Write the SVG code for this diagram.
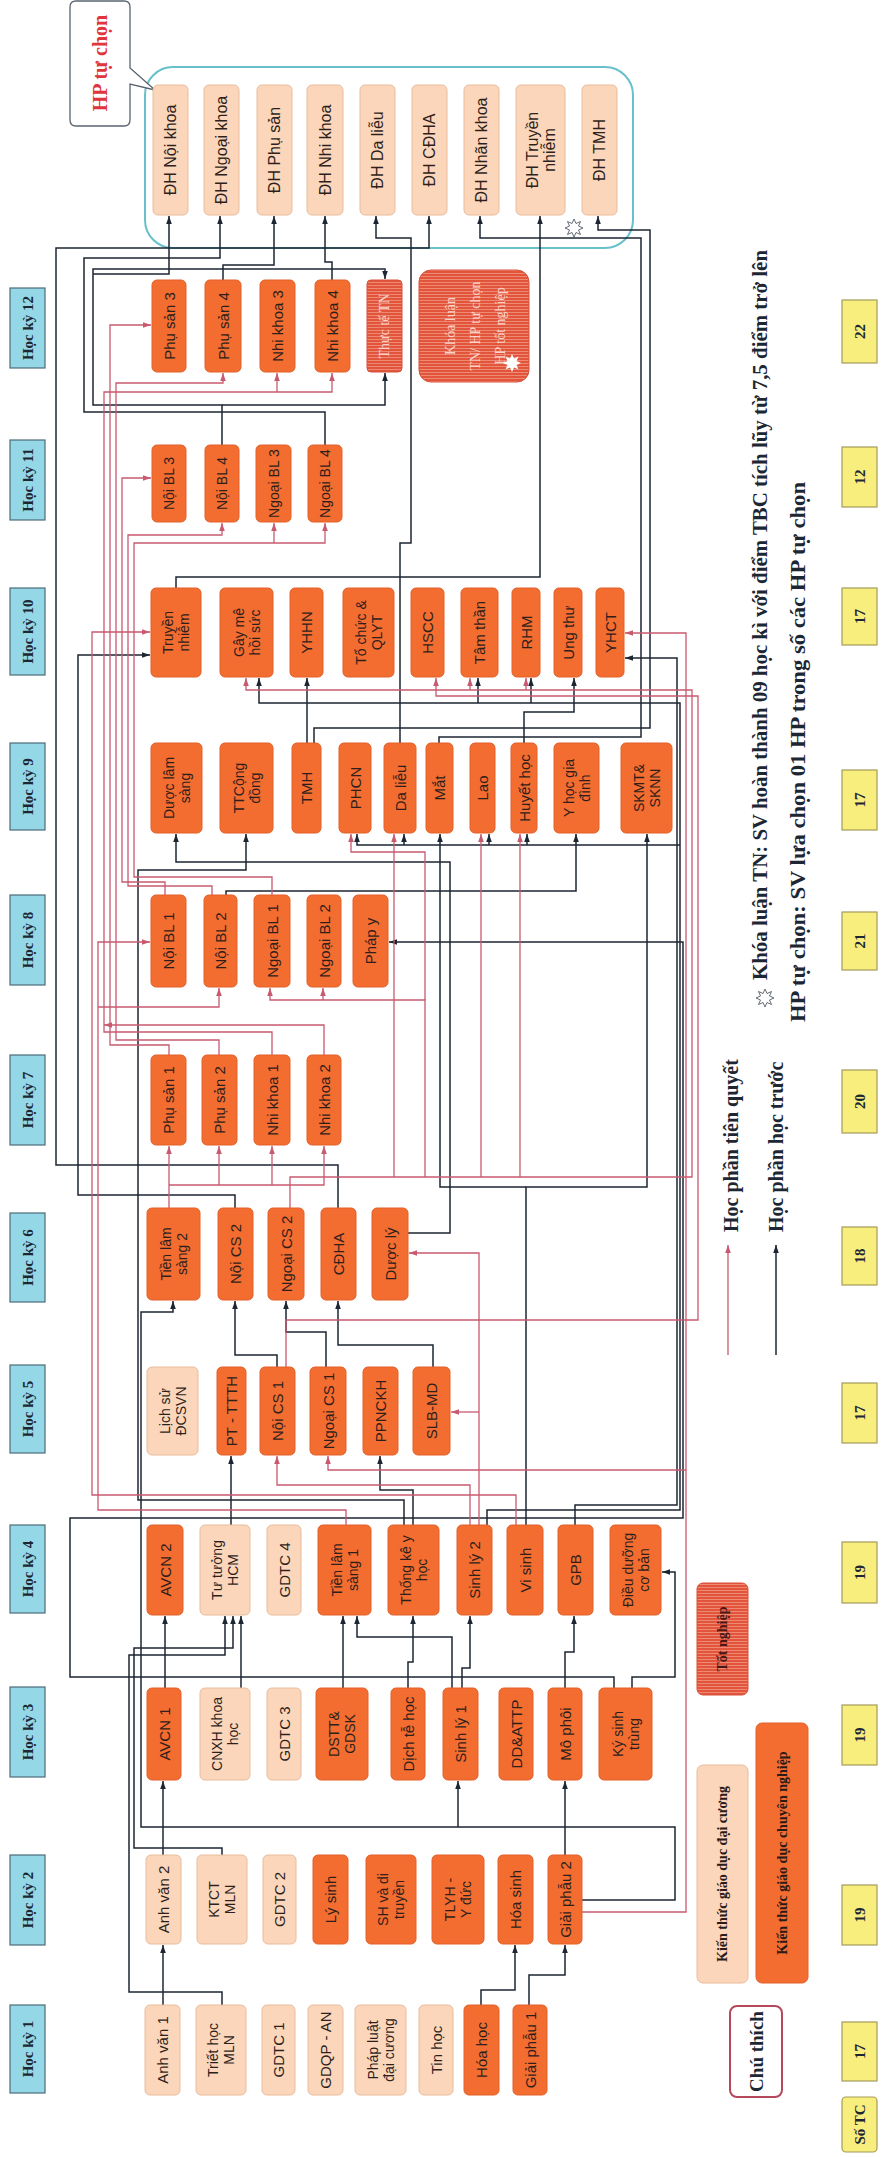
<svg xmlns="http://www.w3.org/2000/svg" width="882" height="2157" viewBox="0 0 882 2157">
<defs>
<style>
.dk{fill:#f36c30;stroke:#e3602a;stroke-width:1}
.lt{fill:#fbd6ba;stroke:#e9bc9c;stroke-width:1}
.ht{fill:url(#hatch);stroke:#d9503a;stroke-width:1}
.hd{fill:#94d8e8;stroke:#4d6b78;stroke-width:1.2}
.yl{fill:#f7ee7e;stroke:#a39b5a;stroke-width:1.2}
.t,.t tspan{font-family:"Liberation Sans",Arial,sans-serif;font-size:15px;fill:#2e1f1c;text-anchor:middle;dominant-baseline:central}
.t2,.t2 tspan{font-family:"Liberation Sans",Arial,sans-serif;font-size:14px;fill:#2e1f1c;text-anchor:middle;dominant-baseline:central}
.t3{font-family:"Liberation Sans",Arial,sans-serif;font-size:14px;fill:#2e1f1c;text-anchor:middle;dominant-baseline:central}
.dh,.dh tspan{font-family:"Liberation Sans",Arial,sans-serif;font-size:16px;fill:#2e1f1c;text-anchor:middle;dominant-baseline:central}
.h{font-family:"Liberation Serif","Times New Roman",serif;font-weight:bold;font-size:15px;fill:#1d2733;text-anchor:middle;dominant-baseline:central}
.s,.s tspan{font-family:"Liberation Serif","Times New Roman",serif;font-size:14px;fill:#fcd3cb;text-anchor:middle;dominant-baseline:central}
.w{fill:none;stroke:#1c2633;stroke-width:1.5;marker-end:url(#ab)}
.p{fill:none;stroke:#c85a70;stroke-width:1.3;marker-end:url(#ap)}
.lg{font-family:"Liberation Serif","Times New Roman",serif;font-weight:bold;font-size:20px;fill:#1d2733;dominant-baseline:central}
.lk{font-family:"Liberation Serif","Times New Roman",serif;font-weight:bold;font-size:14px;fill:#2a1a18;text-anchor:middle;dominant-baseline:central}
</style>
<marker id="ab" viewBox="0 0 10 10" refX="10" refY="5" markerWidth="8" markerHeight="8" markerUnits="userSpaceOnUse" orient="auto"><path d="M0,1.5 L10,5 L0,8.5 z" fill="#1c2633"/></marker>
<marker id="ap" viewBox="0 0 10 10" refX="10" refY="5" markerWidth="8" markerHeight="8" markerUnits="userSpaceOnUse" orient="auto"><path d="M0,1.5 L10,5 L0,8.5 z" fill="#c85a70"/></marker>
<pattern id="hatch" patternUnits="userSpaceOnUse" width="6" height="3"><rect width="6" height="3" fill="#e2553c"/><rect width="6" height="1" fill="#ee8a72"/></pattern>
</defs>
<rect width="882" height="2157" fill="#ffffff"/>

<g id="hp-tu-chon-frame">
<rect x="145" y="67" width="488" height="181" rx="28" fill="none" stroke="#68c0cb" stroke-width="2"/>
</g>
<g id="hp-tu-chon-callout">
<path d="M76,1 H124 Q130,1 130,7 V68 L155,90 L130,84 V120 Q130,126 124,126 H76 Q70,126 70,120 V7 Q70,1 76,1 Z" fill="#ffffff" stroke="#5a6470" stroke-width="1.3"/>
<text transform="translate(100,63) rotate(-90)" style="font-family:'Liberation Serif','Times New Roman',serif;font-weight:bold;font-size:20px;fill:#e0353c;text-anchor:middle;dominant-baseline:central">HP tự chọn</text>
</g>

<g id="connectors">
<path class="w" d="M163,2005 V1945"/>
<path class="w" d="M481,2005 V1990 H515 V1945"/>
<path class="w" d="M529,2005 V1975 H565 V1945"/>
<path class="w" d="M222,2005 V1992 H129 V1655 H225 V1616"/>
<path class="w" d="M222,1855 V1848 H134 V1648 H233 V1616"/>
<path class="w" d="M241,1688 V1616"/>
<path class="w" d="M163,1855 V1781"/>
<path class="w" d="M565,1855 V1781"/>
<path class="w" d="M582,1900 H675 V1827 H141 V1312 H173 V1301"/>
<path class="w" d="M458,1827 V1781"/>
<path class="w" d="M165,1688 V1616"/>
<path class="w" d="M343,1688 V1616"/>
<path class="w" d="M408,1688 V1662 H413 V1616"/>
<path class="w" d="M462,1688 V1668 H470 V1616"/>
<path class="w" d="M452,1688 V1637 H357 V1616"/>
<path class="w" d="M565,1688 V1652 H574 V1616"/>
<path class="w" d="M632,1688 V1677 H675 V1572 H662"/>
<path class="w" d="M614,1688 V1677 H70 V1518 H683 V942 H389"/>
<path class="w" d="M231,1525 V1456"/>
<path class="w" d="M413,1525 V1490 H380 V1456"/>
<path class="w" d="M277,1367 V1355 H235 V1301"/>
<path class="w" d="M326,1367 V1332 H286 V1301"/>
<path class="w" d="M433,1367 V1345 H338 V1301"/>
<path class="w" d="M408,1233 H450 V862 H176 V834"/>
<path class="w" d="M338,1208 V1165 H56 V248 H429 V216"/>
<path class="w" d="M526,1525 V1187 H647 V834"/>
<path class="w" d="M526,1187 H440 V834"/>
<path class="w" d="M487,1525 V1510 H680 V703 H259 V678"/>
<path class="w" d="M478,703 V678"/>
<path class="w" d="M531,703 V678"/>
<path class="w" d="M680,845 H357 V834"/>
<path class="w" d="M404,845 V834"/>
<path class="w" d="M489,845 V834"/>
<path class="w" d="M527,845 V834"/>
<path class="w" d="M307,743 V678"/>
<path class="w" d="M439,743 V737 H641 V238 H480 V216"/>
<path class="w" d="M400,743 V543 H411 V238 H376 V216"/>
<path class="w" d="M176,588 V577 H540 V216"/>
<path class="w" d="M314,743 V728 H650 V230 H598 V216"/>
<path class="w" d="M222,445 V405 H93 V269 H385 V279"/>
<path class="w" d="M93,274 H169 V216"/>
<path class="w" d="M222,405 H385 V373"/>
<path class="w" d="M325,445 V412 H84 V258 H220 V216"/>
<path class="w" d="M223,280 V265 H274 V216"/>
<path class="w" d="M332,280 V262 H325 V216"/>
<path class="w" d="M235,1208 V1195 H78 V655 H150"/>
<path class="w" d="M226,895 V891 H576 V834"/>
<path class="w" d="M404,1525 V1500 H138 V870 H246 V834"/>
<path class="w" d="M575,1525 V1505 H677 V658 H625"/>
<path class="w" d="M524,743 V712 H574 V678"/>
<path class="p" d="M346,1525 V1510 H98 V942 H150"/>
<path class="p" d="M98,1007 H219 V988"/>
<path class="p" d="M169,1055 V1045 H110 V325 H151"/>
<path class="p" d="M219,1055 V1040 H116 V383 H223 V373"/>
<path class="p" d="M272,1055 V1032 H104 V392 H332 V373"/>
<path class="p" d="M277,392 V373"/>
<path class="p" d="M324,1055 V1025 H104"/>
<path class="p" d="M165,895 V882 H122 V478 H151"/>
<path class="p" d="M212,895 V886 H128 V535 H222 V523"/>
<path class="p" d="M272,895 V877 H134 V543 H325 V523"/>
<path class="p" d="M274,543 V523"/>
<path class="p" d="M169,1208 V1146"/>
<path class="p" d="M169,1185 H324 V1146"/>
<path class="p" d="M219,1185 V1146"/>
<path class="p" d="M272,1185 V1146"/>
<path class="p" d="M290,1208 V1177 H692 V690 H246 V678"/>
<path class="p" d="M470,690 V678"/>
<path class="p" d="M526,690 V678"/>
<path class="p" d="M394,1177 V834"/>
<path class="p" d="M481,1177 V834"/>
<path class="p" d="M520,1177 V834"/>
<path class="p" d="M425,1177 V1000 H270 V988"/>
<path class="p" d="M323,1000 V988"/>
<path class="p" d="M425,1000 V852 H351 V834"/>
<path class="p" d="M286,1367 V1320 H698 V696 H436 V678"/>
<path class="p" d="M582,1912 H686 V633 H625"/>
<path class="p" d="M686,1470 H328 V1456"/>
<path class="p" d="M516,1525 V1495 H92 V632 H150"/>
<path class="p" d="M470,1525 V1485 H277 V1456"/>
<path class="p" d="M479,1525 V1253 H409"/>
<path class="p" d="M479,1412 H451"/>
</g>

<g id="hk1"><rect class="hd" x="10" y="2005" width="35" height="88"/><text class="h" transform="translate(27.5,2049) rotate(-90)">Học kỳ 1</text></g>
<g id="hk2"><rect class="hd" x="10" y="1855" width="35" height="90"/><text class="h" transform="translate(27.5,1900) rotate(-90)">Học kỳ 2</text></g>
<g id="hk3"><rect class="hd" x="10" y="1687" width="35" height="90"/><text class="h" transform="translate(27.5,1732) rotate(-90)">Học kỳ 3</text></g>
<g id="hk4"><rect class="hd" x="10" y="1525" width="35" height="88"/><text class="h" transform="translate(27.5,1569) rotate(-90)">Học kỳ 4</text></g>
<g id="hk5"><rect class="hd" x="10" y="1365" width="35" height="88"/><text class="h" transform="translate(27.5,1409) rotate(-90)">Học kỳ 5</text></g>
<g id="hk6"><rect class="hd" x="10" y="1213" width="35" height="89"/><text class="h" transform="translate(27.5,1257.5) rotate(-90)">Học kỳ 6</text></g>
<g id="hk7"><rect class="hd" x="10" y="1055" width="35" height="90"/><text class="h" transform="translate(27.5,1100) rotate(-90)">Học kỳ 7</text></g>
<g id="hk8"><rect class="hd" x="10" y="895" width="35" height="90"/><text class="h" transform="translate(27.5,940) rotate(-90)">Học kỳ 8</text></g>
<g id="hk9"><rect class="hd" x="10" y="743" width="35" height="87"/><text class="h" transform="translate(27.5,786.5) rotate(-90)">Học kỳ 9</text></g>
<g id="hk10"><rect class="hd" x="10" y="588" width="35" height="87"/><text class="h" transform="translate(27.5,631.5) rotate(-90)">Học kỳ 10</text></g>
<g id="hk11"><rect class="hd" x="10" y="440" width="35" height="80"/><text class="h" transform="translate(27.5,480) rotate(-90)">Học kỳ 11</text></g>
<g id="hk12"><rect class="hd" x="10" y="288" width="35" height="80"/><text class="h" transform="translate(27.5,328) rotate(-90)">Học kỳ 12</text></g>

<g id="dh-noi"><rect class="lt" x="153" y="85" width="35" height="130" rx="5"/><text class="dh" transform="translate(170.5,150) rotate(-90)">ĐH Nội khoa</text></g>
<g id="dh-ngoai"><rect class="lt" x="204" y="85" width="35" height="130" rx="5"/><text class="dh" transform="translate(221.5,150) rotate(-90)">ĐH Ngoại khoa</text></g>
<g id="dh-phusan"><rect class="lt" x="257" y="85" width="35" height="130" rx="5"/><text class="dh" transform="translate(274.5,150) rotate(-90)">ĐH Phụ sản</text></g>
<g id="dh-nhi"><rect class="lt" x="307" y="85" width="36" height="130" rx="5"/><text class="dh" transform="translate(325,150) rotate(-90)">ĐH Nhi khoa</text></g>
<g id="dh-dalieu"><rect class="lt" x="360" y="85" width="35" height="130" rx="5"/><text class="dh" transform="translate(377.5,150) rotate(-90)">ĐH Da liễu</text></g>
<g id="dh-cdha"><rect class="lt" x="412" y="85" width="35" height="130" rx="5"/><text class="dh" transform="translate(429.5,150) rotate(-90)">ĐH CĐHA</text></g>
<g id="dh-nhan"><rect class="lt" x="464" y="85" width="35" height="130" rx="5"/><text class="dh" transform="translate(481.5,150) rotate(-90)">ĐH Nhãn khoa</text></g>
<g id="dh-truyen"><rect class="lt" x="516" y="85" width="49" height="130" rx="5"/><text class="dh" transform="translate(540.5,150) rotate(-90)"><tspan x="0" y="-8.5">ĐH Truyền</tspan><tspan x="0" y="8.5">nhiễm</tspan></text></g>
<g id="dh-tmh"><rect class="lt" x="582" y="85" width="35" height="130" rx="5"/><text class="dh" transform="translate(599.5,150) rotate(-90)">ĐH TMH</text></g>
<g id="star-hp"><polygon points="574,219 576,223.5 580.5,221.5 578.5,226 583,228 578.5,230 580.5,234.5 576,232.5 574,237 572,232.5 567.5,234.5 569.5,230 565,228 569.5,226 567.5,221.5 572,223.5" fill="#ffffff" stroke="#555c66" stroke-width="0.9"/></g>

<g id="phusan3"><rect class="dk" x="152" y="280" width="34" height="92" rx="5"/><text class="t" transform="translate(169,326) rotate(-90)">Phụ sản 3</text></g>
<g id="phusan4"><rect class="dk" x="205" y="280" width="36" height="92" rx="5"/><text class="t" transform="translate(223,326) rotate(-90)">Phụ sản 4</text></g>
<g id="nhikhoa3"><rect class="dk" x="260" y="280" width="35" height="92" rx="5"/><text class="t" transform="translate(277.5,326) rotate(-90)">Nhi khoa 3</text></g>
<g id="nhikhoa4"><rect class="dk" x="315" y="280" width="35" height="92" rx="5"/><text class="t" transform="translate(332.5,326) rotate(-90)">Nhi khoa 4</text></g>
<g id="thucte-tn"><rect class="ht" x="367" y="280" width="35" height="92" rx="4"/><text class="s" transform="translate(384.5,326) rotate(-90)">Thực tế TN</text></g>
<g id="khoaluan-tn"><rect class="ht" x="419" y="270" width="110" height="112" rx="12"/><text class="s" transform="translate(474,326) rotate(-90)"><tspan x="0" y="-24">Khóa luận</tspan><tspan x="0" y="1">TN/ HP tự chọn</tspan><tspan x="0" y="26">HP tốt nghiệp</tspan></text><polygon points="512,354 514,358.5 518.5,356.5 516.5,361 521,363 516.5,365 518.5,369.5 514,367.5 512,372 510,367.5 505.5,369.5 507.5,365 503,363 507.5,361 505.5,356.5 510,358.5" fill="#ffffff"/></g>

<g id="noibl3"><rect class="dk" x="152" y="445" width="34" height="77" rx="5"/><text class="t3" transform="translate(169,483.5) rotate(-90)">Nội BL 3</text></g>
<g id="noibl4"><rect class="dk" x="205" y="445" width="34" height="77" rx="5"/><text class="t3" transform="translate(222,483.5) rotate(-90)">Nội BL 4</text></g>
<g id="ngoaibl3"><rect class="dk" x="256" y="445" width="35" height="77" rx="5"/><text class="t3" transform="translate(273.5,483.5) rotate(-90)">Ngoại BL 3</text></g>
<g id="ngoaibl4"><rect class="dk" x="308" y="445" width="34" height="77" rx="5"/><text class="t3" transform="translate(325,483.5) rotate(-90)">Ngoại BL 4</text></g>

<g id="truyennhiem"><rect class="dk" x="151" y="588" width="50" height="89" rx="5"/><text class="t2" transform="translate(176,632.5) rotate(-90)"><tspan x="0" y="-8">Truyền</tspan><tspan x="0" y="8">nhiễm</tspan></text></g>
<g id="gayme"><rect class="dk" x="220" y="588" width="53" height="89" rx="5"/><text class="t2" transform="translate(246.5,632.5) rotate(-90)"><tspan x="0" y="-8">Gây mê</tspan><tspan x="0" y="8">hồi sức</tspan></text></g>
<g id="yhhn"><rect class="dk" x="290" y="588" width="33" height="89" rx="5"/><text class="t" transform="translate(306.5,632.5) rotate(-90)">YHHN</text></g>
<g id="tochuc"><rect class="dk" x="343" y="588" width="51" height="89" rx="5"/><text class="t2" transform="translate(368.5,632.5) rotate(-90)"><tspan x="0" y="-8">Tổ chức &amp;</tspan><tspan x="0" y="8">QLYT</tspan></text></g>
<g id="hscc"><rect class="dk" x="411" y="588" width="33" height="89" rx="5"/><text class="t" transform="translate(427.5,632.5) rotate(-90)">HSCC</text></g>
<g id="tamthan"><rect class="dk" x="461" y="588" width="37" height="89" rx="5"/><text class="t" transform="translate(479.5,632.5) rotate(-90)">Tâm thần</text></g>
<g id="rhm"><rect class="dk" x="512" y="588" width="28" height="89" rx="5"/><text class="t" transform="translate(526,632.5) rotate(-90)">RHM</text></g>
<g id="ungthu"><rect class="dk" x="554" y="588" width="28" height="89" rx="5"/><text class="t" transform="translate(568,632.5) rotate(-90)">Ung thư</text></g>
<g id="yhct"><rect class="dk" x="596" y="588" width="28" height="89" rx="5"/><text class="t" transform="translate(610,632.5) rotate(-90)">YHCT</text></g>

<g id="duoclamsang"><rect class="dk" x="151" y="743" width="51" height="90" rx="5"/><text class="t2" transform="translate(176.5,788) rotate(-90)"><tspan x="0" y="-8">Dược lâm</tspan><tspan x="0" y="8">sàng</tspan></text></g>
<g id="ttcongdong"><rect class="dk" x="220" y="743" width="53" height="90" rx="5"/><text class="t2" transform="translate(246.5,788) rotate(-90)"><tspan x="0" y="-8">TTCộng</tspan><tspan x="0" y="8">đồng</tspan></text></g>
<g id="tmh"><rect class="dk" x="292" y="743" width="29" height="90" rx="5"/><text class="t" transform="translate(306.5,788) rotate(-90)">TMH</text></g>
<g id="phcn"><rect class="dk" x="339" y="743" width="32" height="90" rx="5"/><text class="t" transform="translate(355,788) rotate(-90)">PHCN</text></g>
<g id="dalieu"><rect class="dk" x="384" y="743" width="32" height="90" rx="5"/><text class="t" transform="translate(400,788) rotate(-90)">Da liễu</text></g>
<g id="mat"><rect class="dk" x="426" y="743" width="27" height="90" rx="5"/><text class="t" transform="translate(439.5,788) rotate(-90)">Mắt</text></g>
<g id="lao"><rect class="dk" x="470" y="743" width="25" height="90" rx="5"/><text class="t" transform="translate(482.5,788) rotate(-90)">Lao</text></g>
<g id="huyethoc"><rect class="dk" x="511" y="743" width="26" height="90" rx="5"/><text class="t" transform="translate(524,788) rotate(-90)">Huyết học</text></g>
<g id="yhgd"><rect class="dk" x="554" y="743" width="45" height="90" rx="5"/><text class="t2" transform="translate(576.5,788) rotate(-90)"><tspan x="0" y="-8">Y học gia</tspan><tspan x="0" y="8">đình</tspan></text></g>
<g id="skmt"><rect class="dk" x="621" y="743" width="51" height="90" rx="5"/><text class="t2" transform="translate(646.5,788) rotate(-90)"><tspan x="0" y="-8">SKMT&amp;</tspan><tspan x="0" y="8">SKNN</tspan></text></g>

<g id="noibl1"><rect class="dk" x="151" y="895" width="35" height="92" rx="5"/><text class="t" transform="translate(168.5,941) rotate(-90)">Nội BL 1</text></g>
<g id="noibl2"><rect class="dk" x="204" y="895" width="33" height="92" rx="5"/><text class="t" transform="translate(220.5,941) rotate(-90)">Nội BL 2</text></g>
<g id="ngoaibl1"><rect class="dk" x="254" y="895" width="36" height="92" rx="5"/><text class="t" transform="translate(272,941) rotate(-90)">Ngoại BL 1</text></g>
<g id="ngoaibl2"><rect class="dk" x="307" y="895" width="34" height="92" rx="5"/><text class="t" transform="translate(324,941) rotate(-90)">Ngoại BL 2</text></g>
<g id="phapy"><rect class="dk" x="353" y="895" width="35" height="92" rx="5"/><text class="t" transform="translate(370.5,941) rotate(-90)">Pháp y</text></g>

<g id="phusan1"><rect class="dk" x="151" y="1055" width="35" height="90" rx="5"/><text class="t" transform="translate(168.5,1100) rotate(-90)">Phụ sản 1</text></g>
<g id="phusan2"><rect class="dk" x="202" y="1055" width="35" height="90" rx="5"/><text class="t" transform="translate(219.5,1100) rotate(-90)">Phụ sản 2</text></g>
<g id="nhikhoa1"><rect class="dk" x="254" y="1055" width="36" height="90" rx="5"/><text class="t" transform="translate(272,1100) rotate(-90)">Nhi khoa 1</text></g>
<g id="nhikhoa2"><rect class="dk" x="307" y="1055" width="34" height="90" rx="5"/><text class="t" transform="translate(324,1100) rotate(-90)">Nhi khoa 2</text></g>

<g id="tls2"><rect class="dk" x="147" y="1208" width="53" height="92" rx="5"/><text class="t2" transform="translate(173.5,1254) rotate(-90)"><tspan x="0" y="-8">Tiền lâm</tspan><tspan x="0" y="8">sàng 2</tspan></text></g>
<g id="noics2"><rect class="dk" x="218" y="1208" width="35" height="92" rx="5"/><text class="t" transform="translate(235.5,1254) rotate(-90)">Nội CS 2</text></g>
<g id="ngoaics2"><rect class="dk" x="268" y="1208" width="36" height="92" rx="5"/><text class="t" transform="translate(286,1254) rotate(-90)">Ngoại CS 2</text></g>
<g id="cdha"><rect class="dk" x="321" y="1208" width="35" height="92" rx="5"/><text class="t" transform="translate(338.5,1254) rotate(-90)">CĐHA</text></g>
<g id="duocly"><rect class="dk" x="372" y="1208" width="36" height="92" rx="5"/><text class="t" transform="translate(390,1254) rotate(-90)">Dược lý</text></g>

<g id="lichsu"><rect class="lt" x="147" y="1367" width="51" height="88" rx="5"/><text class="t2" transform="translate(172.5,1411) rotate(-90)"><tspan x="0" y="-8">Lịch sử</tspan><tspan x="0" y="8">ĐCSVN</tspan></text></g>
<g id="pttth"><rect class="dk" x="217" y="1367" width="29" height="88" rx="5"/><text class="t" transform="translate(231.5,1411) rotate(-90)">PT - TTTH</text></g>
<g id="noics1"><rect class="dk" x="260" y="1367" width="35" height="88" rx="5"/><text class="t" transform="translate(277.5,1411) rotate(-90)">Nội CS 1</text></g>
<g id="ngoaics1"><rect class="dk" x="310" y="1367" width="36" height="88" rx="5"/><text class="t" transform="translate(328,1411) rotate(-90)">Ngoại CS 1</text></g>
<g id="ppnckh"><rect class="dk" x="363" y="1367" width="35" height="88" rx="5"/><text class="t" transform="translate(380.5,1411) rotate(-90)">PPNCKH</text></g>
<g id="slbmd"><rect class="dk" x="413" y="1367" width="37" height="88" rx="5"/><text class="t" transform="translate(431.5,1411) rotate(-90)">SLB-MD</text></g>

<g id="avcn2"><rect class="dk" x="147" y="1525" width="36" height="90" rx="5"/><text class="t" transform="translate(165,1570) rotate(-90)">AVCN 2</text></g>
<g id="tutuong"><rect class="lt" x="200" y="1525" width="50" height="90" rx="5"/><text class="t2" transform="translate(225,1570) rotate(-90)"><tspan x="0" y="-8">Tư tưởng</tspan><tspan x="0" y="8">HCM</tspan></text></g>
<g id="gdtc4"><rect class="lt" x="267" y="1525" width="34" height="90" rx="5"/><text class="t" transform="translate(284,1570) rotate(-90)">GDTC 4</text></g>
<g id="tls1"><rect class="dk" x="318" y="1525" width="53" height="90" rx="5"/><text class="t2" transform="translate(344.5,1570) rotate(-90)"><tspan x="0" y="-8">Tiền lâm</tspan><tspan x="0" y="8">sàng 1</tspan></text></g>
<g id="thongke"><rect class="dk" x="388" y="1525" width="51" height="90" rx="5"/><text class="t2" transform="translate(413.5,1570) rotate(-90)"><tspan x="0" y="-8">Thống kê y</tspan><tspan x="0" y="8">học</tspan></text></g>
<g id="sinhly2"><rect class="dk" x="457" y="1525" width="35" height="90" rx="5"/><text class="t" transform="translate(474.5,1570) rotate(-90)">Sinh lý 2</text></g>
<g id="visinh"><rect class="dk" x="507" y="1525" width="36" height="90" rx="5"/><text class="t" transform="translate(525,1570) rotate(-90)">Vi sinh</text></g>
<g id="gpb"><rect class="dk" x="558" y="1525" width="35" height="90" rx="5"/><text class="t" transform="translate(575.5,1570) rotate(-90)">GPB</text></g>
<g id="dieuduong"><rect class="dk" x="610" y="1525" width="51" height="90" rx="5"/><text class="t2" transform="translate(635.5,1570) rotate(-90)"><tspan x="0" y="-8">Điều dưỡng</tspan><tspan x="0" y="8">cơ bản</tspan></text></g>

<g id="avcn1"><rect class="dk" x="147" y="1688" width="34" height="92" rx="5"/><text class="t" transform="translate(164,1734) rotate(-90)">AVCN 1</text></g>
<g id="cnxh"><rect class="lt" x="200" y="1688" width="50" height="92" rx="5"/><text class="t2" transform="translate(225,1734) rotate(-90)"><tspan x="0" y="-8">CNXH khoa</tspan><tspan x="0" y="8">học</tspan></text></g>
<g id="gdtc3"><rect class="lt" x="267" y="1688" width="34" height="92" rx="5"/><text class="t" transform="translate(284,1734) rotate(-90)">GDTC 3</text></g>
<g id="dstt"><rect class="dk" x="316" y="1688" width="52" height="92" rx="5"/><text class="t2" transform="translate(342,1734) rotate(-90)"><tspan x="0" y="-8">DSTT&amp;</tspan><tspan x="0" y="8">GDSK</tspan></text></g>
<g id="dichte"><rect class="dk" x="391" y="1688" width="34" height="92" rx="5"/><text class="t" transform="translate(408,1734) rotate(-90)">Dịch tễ học</text></g>
<g id="sinhly1"><rect class="dk" x="443" y="1688" width="35" height="92" rx="5"/><text class="t" transform="translate(460.5,1734) rotate(-90)">Sinh lý 1</text></g>
<g id="ddattp"><rect class="dk" x="499" y="1688" width="34" height="92" rx="5"/><text class="t" transform="translate(516,1734) rotate(-90)">DD&amp;ATTP</text></g>
<g id="mophoi"><rect class="dk" x="548" y="1688" width="34" height="92" rx="5"/><text class="t" transform="translate(565,1734) rotate(-90)">Mô phôi</text></g>
<g id="kysinhtrung"><rect class="dk" x="599" y="1688" width="53" height="92" rx="5"/><text class="t2" transform="translate(625.5,1734) rotate(-90)"><tspan x="0" y="-8">Ký sinh</tspan><tspan x="0" y="8">trùng</tspan></text></g>

<g id="anhvan2"><rect class="lt" x="146" y="1855" width="35" height="89" rx="5"/><text class="t" transform="translate(163.5,1899.5) rotate(-90)">Anh văn 2</text></g>
<g id="ktct"><rect class="lt" x="197" y="1855" width="50" height="89" rx="5"/><text class="t2" transform="translate(222,1899.5) rotate(-90)"><tspan x="0" y="-8">KTCT</tspan><tspan x="0" y="8">MLN</tspan></text></g>
<g id="gdtc2"><rect class="lt" x="263" y="1855" width="33" height="89" rx="5"/><text class="t" transform="translate(279.5,1899.5) rotate(-90)">GDTC 2</text></g>
<g id="lysinh"><rect class="dk" x="313" y="1855" width="35" height="89" rx="5"/><text class="t" transform="translate(330.5,1899.5) rotate(-90)">Lý sinh</text></g>
<g id="shdt"><rect class="dk" x="366" y="1855" width="50" height="89" rx="5"/><text class="t2" transform="translate(391,1899.5) rotate(-90)"><tspan x="0" y="-8">SH và di</tspan><tspan x="0" y="8">truyền</tspan></text></g>
<g id="tlyh"><rect class="dk" x="432" y="1855" width="52" height="89" rx="5"/><text class="t2" transform="translate(458,1899.5) rotate(-90)"><tspan x="0" y="-8">TLYH -</tspan><tspan x="0" y="8">Y đức</tspan></text></g>
<g id="hoasinh"><rect class="dk" x="498" y="1855" width="35" height="89" rx="5"/><text class="t" transform="translate(515.5,1899.5) rotate(-90)">Hóa sinh</text></g>
<g id="giaiphau2"><rect class="dk" x="548" y="1855" width="34" height="89" rx="5"/><text class="t" transform="translate(565,1899.5) rotate(-90)">Giải phẫu 2</text></g>

<g id="anhvan1"><rect class="lt" x="145" y="2005" width="35" height="90" rx="5"/><text class="t" transform="translate(162.5,2050) rotate(-90)">Anh văn 1</text></g>
<g id="triethoc"><rect class="lt" x="196" y="2005" width="50" height="90" rx="5"/><text class="t2" transform="translate(221,2050) rotate(-90)"><tspan x="0" y="-8">Triết học</tspan><tspan x="0" y="8">MLN</tspan></text></g>
<g id="gdtc1"><rect class="lt" x="262" y="2005" width="33" height="90" rx="5"/><text class="t" transform="translate(278.5,2050) rotate(-90)">GDTC 1</text></g>
<g id="gdqp"><rect class="lt" x="308" y="2005" width="35" height="90" rx="5"/><text class="t" transform="translate(325.5,2050) rotate(-90)">GDQP - AN</text></g>
<g id="phapluat"><rect class="lt" x="355" y="2005" width="51" height="90" rx="5"/><text class="t2" transform="translate(380.5,2050) rotate(-90)"><tspan x="0" y="-8">Pháp luật</tspan><tspan x="0" y="8">đại cương</tspan></text></g>
<g id="tinhoc"><rect class="lt" x="419" y="2005" width="34" height="90" rx="5"/><text class="t" transform="translate(436,2050) rotate(-90)">Tin học</text></g>
<g id="hoahoc"><rect class="dk" x="464" y="2005" width="35" height="90" rx="5"/><text class="t" transform="translate(481.5,2050) rotate(-90)">Hóa học</text></g>
<g id="giaiphau1"><rect class="dk" x="513" y="2005" width="34" height="90" rx="5"/><text class="t" transform="translate(530,2050) rotate(-90)">Giải phẫu 1</text></g>

<g id="tc-label"><rect class="yl" x="842" y="2097" width="35" height="55" rx="4"/><text class="h" transform="translate(859.5,2124.5) rotate(-90)">Số TC</text></g>
<g id="tc1"><rect class="yl" x="842" y="2022" width="35" height="59"/><text class="h" transform="translate(859.5,2051.5) rotate(-90)">17</text></g>
<g id="tc2"><rect class="yl" x="842" y="1885" width="35" height="60"/><text class="h" transform="translate(859.5,1915) rotate(-90)">19</text></g>
<g id="tc3"><rect class="yl" x="842" y="1705" width="35" height="60"/><text class="h" transform="translate(859.5,1735) rotate(-90)">19</text></g>
<g id="tc4"><rect class="yl" x="842" y="1542" width="35" height="61"/><text class="h" transform="translate(859.5,1572.5) rotate(-90)">19</text></g>
<g id="tc5"><rect class="yl" x="842" y="1383" width="35" height="60"/><text class="h" transform="translate(859.5,1413) rotate(-90)">17</text></g>
<g id="tc6"><rect class="yl" x="842" y="1227" width="35" height="58"/><text class="h" transform="translate(859.5,1256) rotate(-90)">18</text></g>
<g id="tc7"><rect class="yl" x="842" y="1070" width="35" height="63"/><text class="h" transform="translate(859.5,1101.5) rotate(-90)">20</text></g>
<g id="tc8"><rect class="yl" x="842" y="912" width="35" height="58"/><text class="h" transform="translate(859.5,941) rotate(-90)">21</text></g>
<g id="tc9"><rect class="yl" x="842" y="770" width="35" height="60"/><text class="h" transform="translate(859.5,800) rotate(-90)">17</text></g>
<g id="tc10"><rect class="yl" x="842" y="588" width="35" height="57"/><text class="h" transform="translate(859.5,616.5) rotate(-90)">17</text></g>
<g id="tc11"><rect class="yl" x="842" y="447" width="35" height="60"/><text class="h" transform="translate(859.5,477) rotate(-90)">12</text></g>
<g id="tc12"><rect class="yl" x="842" y="300" width="35" height="63"/><text class="h" transform="translate(859.5,331.5) rotate(-90)">22</text></g>

<g id="legend-chuthich"><rect x="730" y="2006" width="52" height="91" rx="7" fill="#ffffff" stroke="#b5485a" stroke-width="2"/><text class="h" transform="translate(756,2051.5) rotate(-90)" style="font-size:19px">Chú thích</text></g>
<g id="legend-daicuong"><rect class="lt" x="697" y="1765" width="51" height="218" rx="6"/><text class="lk" transform="translate(722.5,1874) rotate(-90)">Kiến thức giáo dục đại cương</text></g>
<g id="legend-chuyennghiep"><rect class="dk" x="756" y="1723" width="52" height="260" rx="6"/><text class="lk" transform="translate(782,1853) rotate(-90)">Kiến thức giáo dục chuyên nghiệp</text></g>
<g id="legend-totnghiep"><rect class="ht" x="697" y="1583" width="51" height="112" rx="6"/><text class="lk" transform="translate(722.5,1639) rotate(-90)" style="fill:#4a1616">Tốt nghiệp</text></g>
<g id="legend-arrows">
<path class="p" d="M728,1355 V1245"/>
<path class="w" d="M776,1355 V1245"/>
<text class="lg" transform="translate(731,1232) rotate(-90)">Học phần tiên quyết</text>
<text class="lg" transform="translate(776,1232) rotate(-90)">Học phần học trước</text>
</g>
<g id="legend-notes">
<polygon points="765,989 767,993.5 771.5,991.5 769.5,996 774,998 769.5,1000 771.5,1004.5 767,1002.5 765,1007 763,1002.5 758.5,1004.5 760.5,1000 756,998 760.5,996 758.5,991.5 763,993.5" fill="#ffffff" stroke="#555c66" stroke-width="0.9"/>
<text class="lg" transform="translate(760,980) rotate(-90)" textLength="730" lengthAdjust="spacingAndGlyphs">Khóa luận TN: SV hoàn thành 09 học kì với điểm TBC tích lũy từ 7,5 điểm trở lên</text>
<text class="lg" transform="translate(798,1022) rotate(-90)" textLength="540" lengthAdjust="spacingAndGlyphs">HP tự chọn: SV lựa chọn 01 HP trong số các HP tự chọn</text>
</g>
</svg>
